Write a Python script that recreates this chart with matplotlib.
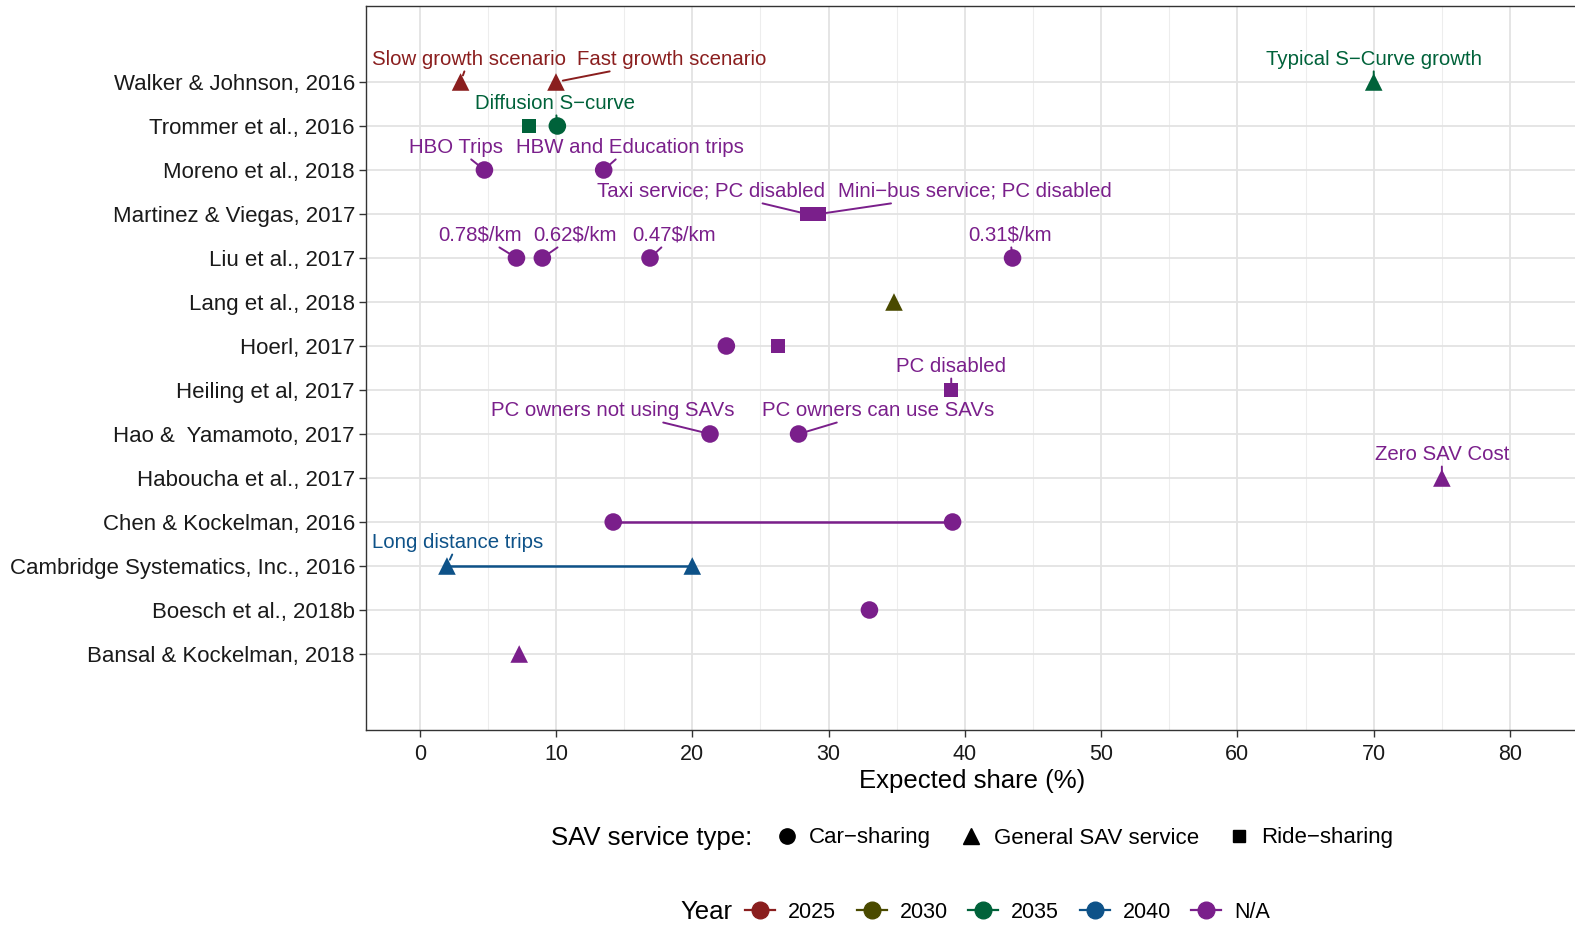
import matplotlib
matplotlib.use("Agg")
import matplotlib.pyplot as plt
from matplotlib.lines import Line2D

plt.rcParams['font.family'] = ['Liberation Sans', 'DejaVu Sans']

# ---------------- data ----------------
studies = [
    "Bansal & Kockelman, 2018",
    "Boesch et al., 2018b",
    "Cambridge Systematics, Inc., 2016",
    "Chen & Kockelman, 2016",
    "Haboucha et al., 2017",
    "Hao &  Yamamoto, 2017",
    "Heiling et al, 2017",
    "Hoerl, 2017",
    "Lang et al., 2018",
    "Liu et al., 2017",
    "Martinez & Viegas, 2017",
    "Moreno et al., 2018",
    "Trommer et al., 2016",
    "Walker & Johnson, 2016",
]

point_study = [
    "Walker & Johnson, 2016", "Walker & Johnson, 2016", "Walker & Johnson, 2016",
    "Trommer et al., 2016", "Trommer et al., 2016",
    "Moreno et al., 2018", "Moreno et al., 2018",
    "Martinez & Viegas, 2017", "Martinez & Viegas, 2017",
    "Liu et al., 2017", "Liu et al., 2017", "Liu et al., 2017", "Liu et al., 2017",
    "Lang et al., 2018",
    "Hoerl, 2017", "Hoerl, 2017",
    "Heiling et al, 2017",
    "Hao &  Yamamoto, 2017", "Hao &  Yamamoto, 2017",
    "Haboucha et al., 2017",
    "Chen & Kockelman, 2016", "Chen & Kockelman, 2016",
    "Cambridge Systematics, Inc., 2016", "Cambridge Systematics, Inc., 2016",
    "Boesch et al., 2018b",
    "Bansal & Kockelman, 2018",
]
point_share = [3.0, 10.0, 70.0,
               8.0, 10.1,
               4.75, 13.5,
               28.4, 29.3,
               7.1, 9.0, 16.9, 43.5,
               34.8,
               22.5, 26.3,
               39.0,
               21.3, 27.8,
               75.0,
               14.2, 39.1,
               2.0, 20.0,
               33.0,
               7.3]
point_type = ["General SAV service", "General SAV service", "General SAV service",
              "Ride-sharing", "Car-sharing",
              "Car-sharing", "Car-sharing",
              "Ride-sharing", "Ride-sharing",
              "Car-sharing", "Car-sharing", "Car-sharing", "Car-sharing",
              "General SAV service",
              "Car-sharing", "Ride-sharing",
              "Ride-sharing",
              "Car-sharing", "Car-sharing",
              "General SAV service",
              "Car-sharing", "Car-sharing",
              "General SAV service", "General SAV service",
              "Car-sharing",
              "General SAV service"]
point_year = ["2025", "2025", "2035",
              "2035", "2035",
              "N/A", "N/A",
              "N/A", "N/A",
              "N/A", "N/A", "N/A", "N/A",
              "2030",
              "N/A", "N/A",
              "N/A",
              "N/A", "N/A",
              "N/A",
              "N/A", "N/A",
              "2040", "2040",
              "N/A",
              "N/A"]
point_label = ["Slow growth scenario", "Fast growth scenario", "Typical S\u2212Curve growth",
               "", "Diffusion S\u2212curve",
               "HBO Trips", "HBW and Education trips",
               "Taxi service; PC disabled", "Mini\u2212bus service; PC disabled",
               "0.78\\$/km", "0.62\\$/km", "0.47\\$/km", "0.31\\$/km",
               "",
               "", "",
               "PC disabled",
               "PC owners not using SAVs", "PC owners can use SAVs",
               "Zero SAV Cost",
               "", "",
               "Long distance trips", "",
               "",
               ""]

range_study = ["Chen & Kockelman, 2016", "Cambridge Systematics, Inc., 2016"]
range_start = [14.2, 2.0]
range_end = [39.1, 20.0]
range_year = ["N/A", "2040"]

service_types = ["Car-sharing", "General SAV service", "Ride-sharing"]
service_labels = ["Car\u2212sharing", "General SAV service", "Ride\u2212sharing"]
years = ["2025", "2030", "2035", "2040", "N/A"]

# ---------------- styles ----------------
year_colors = {"2025": "#8A1E1E", "2030": "#4A4A00", "2035": "#00623A",
               "2040": "#0E5288", "N/A": "#7A1F8B"}
type_marker = {"Car-sharing": "o", "General SAV service": "^", "Ride-sharing": "s"}
type_size = {"Car-sharing": 160, "General SAV service": 160, "Ride-sharing": 100}

# label offsets (x in data units, y in rows), in same order as points
label_dx = [0.6, 8.5, 0.0, 0, -0.15, -2.1, 1.9, -7.0, 11.4, -2.7, 2.4, 1.8, -0.2,
            0, 0, 0, 0.0, -7.1, 5.8, 0.0, 0, 0, 0.8, 0, 0, 0]
label_dy = [0.52] * 13 + [0, 0, 0, 0.54, 0.54, 0.54, 0.54, 0, 0, 0.54, 0, 0, 0]

W, H = 1575, 926
fig = plt.figure(figsize=(W / 100, H / 100), dpi=100)
ax = fig.add_axes([366 / W, 1 - 730 / H, (W - 366) / W + 0.002, (730 - 6) / H])

ypos = {s: i + 1 for i, s in enumerate(studies)}

# grid
ax.set_xlim(-3.94, 84.3)
ax.set_ylim(-0.727, 15.727)
ax.set_xticks(range(0, 81, 10))
ax.set_xticks(range(5, 86, 10), minor=True)
ax.set_yticks([ypos[s] for s in studies])
ax.set_yticklabels(studies)
ax.grid(which='major', color='#E3E3E3', lw=1.3, zorder=0)
ax.grid(which='minor', axis='x', color='#EDEDED', lw=0.8, zorder=0)
ax.set_axisbelow(True)
for sp in ax.spines.values():
    sp.set_color('#333333')
    sp.set_linewidth(1.0)
ax.tick_params(axis='y', which='major', length=5, width=1.0, color='#333333',
               labelsize=16, labelcolor='#1a1a1a', pad=3)
ax.tick_params(axis='x', which='major', length=5, width=1.0, color='#333333',
               labelsize=15.5, labelcolor='#1a1a1a', pad=5)
ax.tick_params(axis='x', which='minor', length=0)
ax.set_xlabel("Expected share (%)", fontsize=18.5, labelpad=3)

# ranges
for s, a, b, yr in zip(range_study, range_start, range_end, range_year):
    ax.plot([a, b], [ypos[s], ypos[s]], color=year_colors[yr], lw=1.8, zorder=2)

# points
for s, x, t, yr in zip(point_study, point_share, point_type, point_year):
    ax.scatter([x], [ypos[s]], marker=type_marker[t], s=type_size[t],
               color=year_colors[yr], edgecolors='none', zorder=3)

# labels
for s, x, yr, lab, dx, dy in zip(point_study, point_share, point_year,
                                  point_label, label_dx, label_dy):
    if not lab:
        continue
    c = year_colors[yr]
    ax.annotate(lab, xy=(x, ypos[s]), xytext=(x + dx, ypos[s] + dy),
                ha='center', va='center', fontsize=14.7, color=c,
                arrowprops=dict(arrowstyle='-', color=c, lw=1.4,
                                shrinkA=0, shrinkB=5), zorder=4)

# legend: service type
shape_handles = [Line2D([], [], marker=type_marker[t], color='black', ls='none',
                        markersize=11 if t != "Ride-sharing" else 9)
                 for t in service_types]
leg1 = fig.legend(shape_handles, service_labels, loc='center left',
                  bbox_to_anchor=(776 / W, 1 - 838 / H), ncol=3, frameon=False,
                  fontsize=16, handlelength=1.0, handletextpad=0.5,
                  columnspacing=1.3, borderaxespad=0, borderpad=0)
fig.text(752 / W, 1 - 838 / H, "SAV service type:", ha='right', va='center',
         fontsize=18.5)

# legend: year
year_handles = [Line2D([], [], marker='o', color=year_colors[y], ls='-', lw=1.6,
                       markersize=12) for y in years]
leg2 = fig.legend(year_handles, years, loc='center left',
                  bbox_to_anchor=(745 / W, 1 - 912 / H), ncol=5, frameon=False,
                  fontsize=15.5, handlelength=1.4, handletextpad=0.6,
                  columnspacing=0.95, borderaxespad=0, borderpad=0)
fig.text(732 / W, 1 - 912 / H, "Year", ha='right', va='center', fontsize=18.5)

fig.savefig("out.png", dpi=100)
